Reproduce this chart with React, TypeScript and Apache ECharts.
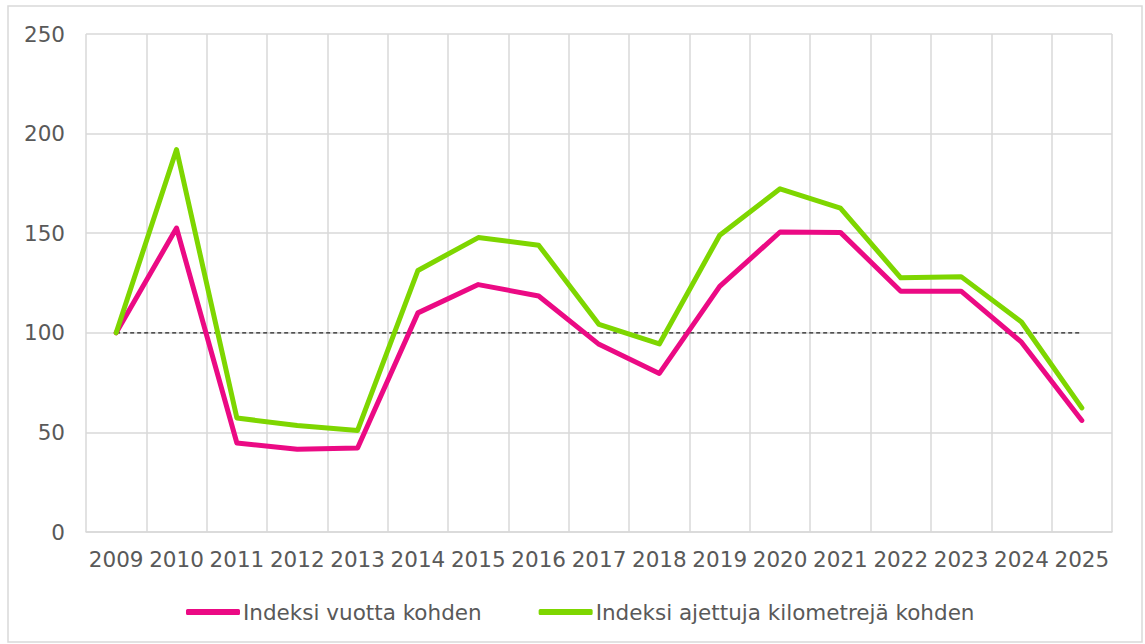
import React, { useEffect, useRef } from "react";
import * as echarts from "echarts";

const years = ["2009","2010","2011","2012","2013","2014","2015","2016","2017","2018","2019","2020","2021","2022","2023","2024","2025"];
const perYear = [100, 152.6, 44.7, 41.5, 42.2, 110, 124.2, 118.5, 94.2, 79.6, 123.3, 150.6, 150.4, 120.9, 120.9, 95.3, 56];
const perKm = [100, 192, 57.2, 53.5, 51, 131.3, 147.8, 144, 104.2, 94.4, 149, 172.3, 162.6, 127.6, 128.2, 105.4, 62.3];
const baseline = years.map(() => 100);
const seriesNames = ["Indeksi vuotta kohden", "Indeksi ajettuja kilometrejä kohden"];

const FONT = "DejaVu Sans";
const TEXT = "#595959";
const GRID = "#D9D9D9";

export default function App() {
  const ref = useRef<HTMLDivElement>(null);
  useEffect(() => {
    const chart = echarts.init(ref.current!, undefined, { renderer: "svg" });
    chart.setOption({
      animation: false,
      backgroundColor: "#ffffff",
      textStyle: { fontFamily: FONT },
      graphic: [
        {
          type: "rect",
          shape: { x: 8, y: 6, width: 1134, height: 636 },
          style: { fill: "none", stroke: GRID, lineWidth: 1.5 },
          silent: true,
        },
      ],
      grid: { left: 86, top: 34, width: 1026, height: 498, containLabel: false },
      legend: {
        data: [
          { name: seriesNames[0], icon: "roundRect", itemStyle: { color: "#EB0A84" } },
          { name: seriesNames[1], icon: "roundRect", itemStyle: { color: "#7ED600" } },
        ],
        left: 181,
        top: 596,
        itemWidth: 54,
        itemHeight: 6,
        itemGap: 57,
        textStyle: { fontFamily: FONT, fontSize: 21.5, color: TEXT, padding: [0, 0, 0, -2] },
      },
      xAxis: {
        type: "category",
        data: years,
        boundaryGap: true,
        axisLine: { show: true, lineStyle: { color: GRID, width: 1.5 } },
        axisTick: { show: false },
        axisLabel: { color: TEXT, fontSize: 21.5, fontFamily: FONT, margin: 16, interval: 0 },
        splitLine: { show: true, interval: 0, lineStyle: { color: GRID, width: 1.5 } },
      },
      yAxis: {
        type: "value",
        min: 0,
        max: 250,
        interval: 50,
        axisLine: { show: false },
        axisTick: { show: false },
        axisLabel: { color: TEXT, fontSize: 21.5, fontFamily: FONT, margin: 21 },
        splitLine: { show: true, lineStyle: { color: GRID, width: 1.5 } },
      },
      series: [
        {
          name: "baseline",
          type: "line",
          data: baseline,
          symbol: "none",
          lineStyle: { color: "#222222", width: 1.2, type: [4, 3] },
          silent: true,
        },
        {
          name: seriesNames[0],
          type: "line",
          data: perYear,
          symbol: "none",
          lineStyle: { color: "#EB0A84", width: 5, cap: "round", join: "round" },
          itemStyle: { color: "#EB0A84" },
        },
        {
          name: seriesNames[1],
          type: "line",
          data: perKm,
          symbol: "none",
          lineStyle: { color: "#7ED600", width: 5, cap: "round", join: "round" },
          itemStyle: { color: "#7ED600" },
        },
      ],
    });
    return () => chart.dispose();
  }, []);
  return (
    <div
      ref={ref}
      style={{ position: "absolute", left: 0, top: 0, width: 1145, height: 644 }}
    />
  );
}
